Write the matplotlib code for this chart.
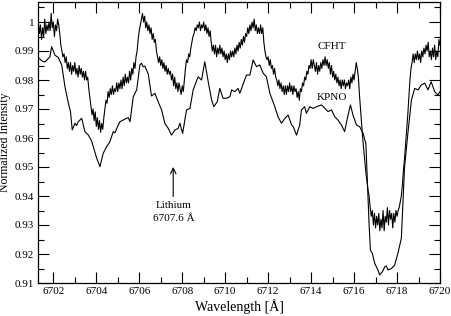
import numpy as np
import matplotlib
matplotlib.use("Agg")
import matplotlib.pyplot as plt
from matplotlib.ticker import MultipleLocator

plt.rcParams['font.family'] = ['Liberation Serif', 'DejaVu Serif']
plt.rcParams['mathtext.fontset'] = 'stix'

# KPNO spectrum (smoother, lower)
kpno_wl = [6701.30, 6701.46, 6701.61, 6701.84, 6701.92, 6702.08, 6702.23, 6702.39, 6702.54, 6702.70,
           6702.80, 6702.88, 6703.01, 6703.08, 6703.16, 6703.32, 6703.47, 6703.63, 6703.78, 6703.86,
           6704.02, 6704.17, 6704.32, 6704.48, 6704.63, 6704.79, 6704.87, 6704.95, 6705.10, 6705.25,
           6705.41, 6705.49, 6705.57, 6705.72, 6705.88, 6706.03, 6706.10, 6706.18, 6706.26, 6706.42,
           6706.57, 6706.73, 6706.88, 6707.04, 6707.19, 6707.35, 6707.50, 6707.66, 6707.81, 6707.89,
           6708.02, 6708.20, 6708.36, 6708.51, 6708.74, 6708.90, 6709.05, 6709.21, 6709.37, 6709.47,
           6709.63, 6709.75, 6709.90, 6710.06, 6710.22, 6710.30, 6710.45, 6710.60, 6710.68, 6710.91,
           6710.99, 6711.15, 6711.30, 6711.46, 6711.61, 6711.77, 6711.92, 6712.08, 6712.31, 6712.46,
           6712.62, 6712.78, 6712.93, 6713.09, 6713.17, 6713.32, 6713.47, 6713.55, 6713.70, 6713.78,
           6713.94, 6714.09, 6714.25, 6714.48, 6714.64, 6714.79, 6714.95, 6715.10, 6715.25, 6715.41,
           6715.56, 6715.67, 6715.83, 6715.95, 6716.11, 6716.26, 6716.42, 6716.55, 6716.62, 6716.70,
           6716.76, 6716.85, 6716.96, 6717.11, 6717.19, 6717.32, 6717.43, 6717.50, 6717.58, 6717.74,
           6717.89, 6718.04, 6718.20, 6718.35, 6718.51, 6718.67, 6718.82, 6718.98, 6719.13, 6719.29,
           6719.44, 6719.59, 6719.75, 6719.90, 6720.00]
kpno_flux = [0.9878, 0.9866, 0.9862, 0.9880, 0.9915, 0.9885, 0.9878, 0.9852, 0.9777, 0.9720,
             0.9690, 0.9628, 0.9651, 0.9643, 0.9656, 0.9668, 0.9622, 0.9610, 0.9590, 0.9570,
             0.9530, 0.9501, 0.9547, 0.9570, 0.9587, 0.9622, 0.9618, 0.9633, 0.9656, 0.9662,
             0.9668, 0.9670, 0.9656, 0.9742, 0.9766, 0.9852, 0.9858, 0.9846, 0.9848, 0.9820,
             0.9745, 0.9754, 0.9725, 0.9697, 0.9651, 0.9633, 0.9610, 0.9628, 0.9633, 0.9651,
             0.9616, 0.9697, 0.9702, 0.9766, 0.9811, 0.9800, 0.9863, 0.9794, 0.9731, 0.9708,
             0.9725, 0.9771, 0.9737, 0.9737, 0.9742, 0.9766, 0.9760, 0.9771, 0.9754, 0.9800,
             0.9817, 0.9817, 0.9869, 0.9846, 0.9852, 0.9823, 0.9811, 0.9754, 0.9708, 0.9673,
             0.9651, 0.9668, 0.9679, 0.9645, 0.9639, 0.9610, 0.9645, 0.9697, 0.9708, 0.9685,
             0.9708, 0.9702, 0.9708, 0.9714, 0.9702, 0.9691, 0.9697, 0.9673, 0.9662, 0.9645,
             0.9622, 0.9662, 0.9714, 0.9679, 0.9645, 0.9639, 0.9616, 0.9580, 0.9450, 0.9300,
             0.9214, 0.9202, 0.9168, 0.9145, 0.9128, 0.9139, 0.9156, 0.9159, 0.9145, 0.9150,
             0.9162, 0.9202, 0.9254, 0.9500, 0.9620, 0.9731, 0.9771, 0.9766, 0.9783, 0.9789,
             0.9766, 0.9794, 0.9760, 0.9748, 0.9760]

# CFHT spectrum (noisy, upper), sampled every 0.05 A from 6701.30 to 6720.00
cfht_start, cfht_end = 6701.30, 6720.00
cfht_flux = [
    1.000, 0.996, 0.999, 0.994, 0.998, 0.995, 1.001, 0.996, 0.999, 0.997,
    1.000, 0.997, 1.003, 0.998, 1.000, 0.995, 0.999, 0.997, 1.001, 0.999,
    0.996, 0.992, 0.990, 0.988, 0.989, 0.986, 0.988, 0.984, 0.986, 0.983,
    0.986, 0.982, 0.985, 0.983, 0.986, 0.982, 0.984, 0.981, 0.985, 0.982,
    0.984, 0.981, 0.983, 0.980, 0.983, 0.980, 0.981, 0.977, 0.974, 0.971,
    0.968, 0.970, 0.966, 0.969, 0.964, 0.967, 0.963, 0.966, 0.962, 0.965,
    0.963, 0.967, 0.970, 0.973, 0.972, 0.976, 0.974, 0.977, 0.975, 0.978,
    0.975, 0.977, 0.976, 0.979, 0.976, 0.979, 0.977, 0.980, 0.977, 0.981,
    0.978, 0.982, 0.979, 0.981, 0.979, 0.983, 0.980, 0.984, 0.982, 0.986,
    0.984, 0.988, 0.990, 0.994, 0.997, 0.999, 1.001, 1.003, 1.000, 1.002,
    0.998, 1.000, 0.997, 0.999, 0.996, 0.998, 0.994, 0.996, 0.993, 0.994,
    0.990, 0.988, 0.986, 0.988, 0.985, 0.987, 0.984, 0.986, 0.983, 0.985,
    0.982, 0.984, 0.982, 0.983, 0.980, 0.982, 0.978, 0.981, 0.977, 0.979,
    0.976, 0.979, 0.977, 0.975, 0.978, 0.976, 0.980, 0.984, 0.987, 0.986,
    0.989, 0.988, 0.991, 0.993, 0.995, 0.996, 0.998, 0.997, 0.999, 0.998,
    1.000, 0.997, 0.999, 0.998, 1.000, 0.997, 0.999, 0.996, 0.998, 0.995,
    0.997, 0.993, 0.990, 0.992, 0.989, 0.992, 0.988, 0.991, 0.989, 0.992,
    0.989, 0.991, 0.988, 0.990, 0.987, 0.989, 0.986, 0.989, 0.987, 0.990,
    0.988, 0.990, 0.988, 0.991, 0.989, 0.992, 0.990, 0.993, 0.991, 0.994,
    0.992, 0.995, 0.993, 0.996, 0.995, 0.998, 0.996, 0.999, 0.997, 1.000,
    0.998, 1.001, 0.997, 0.999, 0.996, 0.998, 0.996, 0.999, 0.996, 0.998,
    0.993, 0.990, 0.988, 0.987, 0.988, 0.985, 0.987, 0.984, 0.985, 0.982,
    0.984, 0.981, 0.980, 0.978, 0.980, 0.977, 0.979, 0.976, 0.978, 0.975,
    0.978, 0.975, 0.978, 0.976, 0.979, 0.976, 0.978, 0.975, 0.978, 0.976,
    0.977, 0.974, 0.976, 0.973, 0.977, 0.976, 0.979, 0.978, 0.981, 0.980,
    0.983, 0.982, 0.985, 0.984, 0.987, 0.984, 0.987, 0.985, 0.983, 0.986,
    0.982, 0.985, 0.983, 0.986, 0.984, 0.987, 0.985, 0.988, 0.985, 0.987,
    0.984, 0.986, 0.982, 0.985, 0.981, 0.983, 0.980, 0.982, 0.979, 0.981,
    0.978, 0.980, 0.977, 0.980, 0.978, 0.980, 0.977, 0.979, 0.978, 0.980,
    0.977, 0.981, 0.979, 0.982, 0.980, 0.983, 0.986, 0.984, 0.981, 0.975,
    0.970, 0.965, 0.960, 0.956, 0.952, 0.948, 0.945, 0.942, 0.940, 0.936,
    0.933, 0.935, 0.930, 0.934, 0.929, 0.933, 0.930, 0.934, 0.928, 0.932,
    0.929, 0.935, 0.928, 0.933, 0.931, 0.936, 0.930, 0.935, 0.932, 0.934,
    0.929, 0.934, 0.931, 0.935, 0.933, 0.935, 0.936, 0.938, 0.940, 0.944,
    0.949, 0.953, 0.958, 0.963, 0.968, 0.974, 0.980, 0.984, 0.986, 0.989,
    0.986, 0.989, 0.987, 0.990, 0.987, 0.989, 0.986, 0.990, 0.988, 0.991,
    0.989, 0.992, 0.990, 0.993, 0.988, 0.990, 0.987, 0.991, 0.988, 0.992,
    0.987, 0.990, 0.988, 0.994, 0.992,
]
cfht_wl = np.linspace(cfht_start, cfht_end, len(cfht_flux))

fig = plt.figure(figsize=(4.52, 3.16), dpi=100)
ax = fig.add_axes([38.3 / 452, 33 / 316, (440 - 38.3) / 452, (283 - 1.7) / 316])

ax.plot(cfht_wl, cfht_flux, color='black', lw=0.8)
ax.plot(kpno_wl, kpno_flux, color='black', lw=0.8)

ax.set_xlim(6701.3, 6720.0)
ax.set_ylim(0.91, 1.007)
ax.xaxis.set_major_locator(MultipleLocator(2))
ax.xaxis.set_minor_locator(MultipleLocator(1))
ax.yaxis.set_major_locator(MultipleLocator(0.01))
ax.yaxis.set_minor_locator(MultipleLocator(0.005))
ax.yaxis.set_major_formatter(matplotlib.ticker.FuncFormatter(
    lambda v, p: '1' if abs(v - 1) < 1e-9 else '%.2f' % v))
ax.tick_params(which='both', direction='in', top=True, right=True, labelsize=8, pad=3, width=0.8)
ax.tick_params(which='major', length=8)
ax.tick_params(which='minor', length=4)
for s in ax.spines.values():
    s.set_linewidth(0.9)

ax.set_xlabel('Wavelength [Å]', fontsize=10, labelpad=2)
ax.set_ylabel('Normalized Intensity', fontsize=8.5)
ax.yaxis.set_label_coords(-0.068, 0.5)

ax.text(6714.97, 0.9914, 'CFHT', fontsize=8, ha='center', va='center')
ax.text(6714.97, 0.9738, 'KPNO', fontsize=8, ha='center', va='center')
ax.annotate('', xy=(6707.58, 0.9500), xytext=(6707.58, 0.9398),
            arrowprops=dict(arrowstyle='->', lw=0.8, color='black', shrinkA=0, shrinkB=0))
ax.text(6707.61, 0.9367, 'Lithium', fontsize=8, ha='center', va='center')
ax.text(6707.61, 0.9321, '6707.6 Å', fontsize=8, ha='center', va='center')

fig.savefig('out.png', dpi=100)
